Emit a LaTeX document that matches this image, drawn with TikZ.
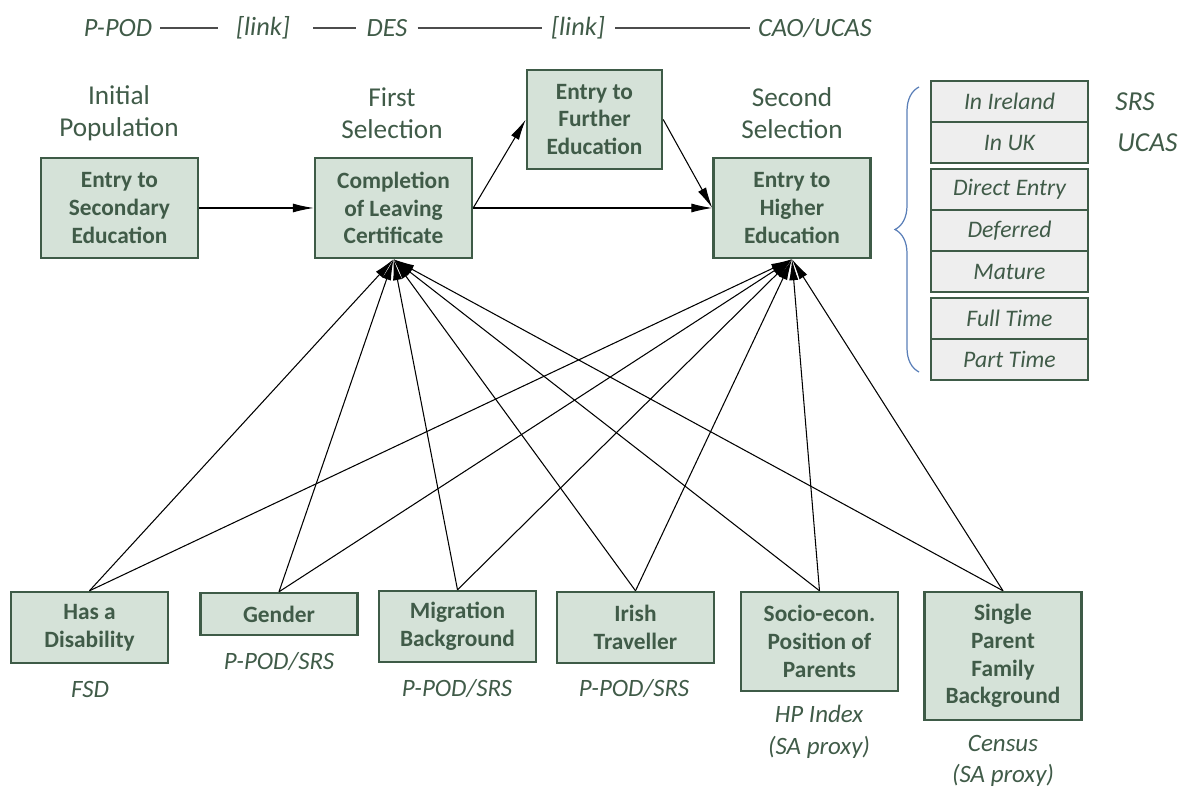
\documentclass[tikz,border=0pt]{standalone}
\usepackage{fontspec}
\setmainfont{Carlito}
\usetikzlibrary{arrows.meta,decorations.pathreplacing}
\definecolor{boxgreen}{HTML}{D5E2D8}
\definecolor{edgegreen}{HTML}{3E5B47}
\definecolor{inkgreen}{HTML}{405B48}
\definecolor{panelgrey}{HTML}{EEEEEE}
\definecolor{braceblue}{HTML}{5A7FB8}
\begin{document}
\begin{tikzpicture}[x=0.02cm, y=-0.02cm,
        stage/.style={draw=edgegreen, line width=1.4pt, fill=boxgreen, text=inkgreen,
            font=\bfseries\fontsize{13.3}{15.8}\selectfont, align=center,
            minimum width=3.14cm, inner sep=0pt},
        panel/.style={draw=edgegreen, line width=1.2pt, fill=panelgrey, text=inkgreen,
            font=\itshape\fontsize{13.5}{16}\selectfont,
            minimum width=3.14cm, minimum height=0.82cm, inner sep=0pt},
        heading/.style={text=inkgreen, align=center, font=\fontsize{15.5}{18.2}\selectfont},
        source/.style={text=inkgreen, align=center, inner sep=0pt, font=\itshape\fontsize{14.2}{18}\selectfont},
        link/.style={-{Latex[length=4.2mm,width=1.8mm]}, line width=0.6pt},
        rule/.style={line width=0.6pt, black!70}]
    \useasboundingbox (0,0) rectangle (1184,790);
    % data sources along the top
    \node[source, font=\itshape\fontsize{15}{18}\selectfont] (ppod) at (118,28) {P-POD};
    \node[source, font=\itshape\fontsize{15}{18}\selectfont] (linka) at (263,28) {[link]};
    \node[source, font=\itshape\fontsize{15}{18}\selectfont] (des) at (387,28) {DES};
    \node[source, font=\itshape\fontsize{15}{18}\selectfont] (linkb) at (578,28) {[link]};
    \node[source, font=\itshape\fontsize{15}{18}\selectfont] (cao) at (815,28) {CAO/UCAS};
    \draw[rule, shorten <=4.5pt, shorten >=10pt] (ppod.east) -- (linka.west);
    \draw[rule, shorten <=13pt, shorten >=5.7pt] (linka.east) -- (des.west);
    \draw[rule, shorten <=5.7pt, shorten >=5pt] (des.east) -- (linkb.west);
    \draw[rule, shorten <=5.7pt, shorten >=4.5pt] (linkb.east) -- (cao.west);
    % stages
    \node[heading] (initial) at (119,113) {Initial\\Population};
    \node[heading] (first) at (392,113) {First\\Selection};
    \node[heading] (second) at (792,113) {Second\\Selection};
    \node[stage, minimum height=2cm] (secondary) at (119.5,208) {Entry to\\Secondary\\Education};
    \node[stage, minimum height=2cm] (completion) at (393.5,208) {Completion\\of Leaving\\Certificate};
    \node[stage, minimum height=1.98cm, minimum width=2.7cm] (further) at (594.5,119.5) {Entry to\\Further\\Education};
    \node[stage, minimum height=2cm] (higher) at (792,208) {Entry to\\Higher\\Education};
    \draw[link] (secondary.east) -- (completion.west);
    \draw[link] (completion.east) -- (further.west);
    \draw[link] (further.east) -- (higher.west);
    \draw[link] (completion.east) -- (higher.west);
    % routes into higher education
    \node[panel] (ireland) at (1009.5,101.5) {In Ireland};
    \node[panel] (uk) at (1009.5,142.5) {In UK};
    \node[panel] (direct) at (1009.5,189.5) {Direct Entry};
    \node[panel] (deferred) at (1009.5,230.5) {Deferred};
    \node[panel] (mature) at (1009.5,271.5) {Mature};
    \node[panel] (fulltime) at (1009.5,318.5) {Full Time};
    \node[panel] (parttime) at (1009.5,359.5) {Part Time};
    \node[source, anchor=west, font=\itshape\fontsize{15.6}{18}\selectfont] (srs) at (1115,102) {SRS};
    \node[source, anchor=west, font=\itshape\fontsize{15.6}{18}\selectfont] (ucas) at (1117,143) {UCAS};
    \draw[braceblue, line width=0.7pt, decorate, decoration={brace, amplitude=0.48cm}] (919,372) -- (919,87);
    % background characteristics
    \node[stage, minimum height=1.42cm] (disability) at (89.5,627.5) {Has a\\Disability};
    \node[stage, minimum height=0.84cm] (gender) at (279,614) {Gender};
    \node[stage, minimum height=1.42cm] (migration) at (457.5,626.5) {Migration\\Background};
    \node[stage, minimum height=1.42cm] (traveller) at (635.5,627.5) {Irish\\Traveller};
    \node[stage, minimum height=1.98cm] (socio) at (819.5,641.5) {Socio-econ.\\Position of\\Parents};
    \node[stage, minimum height=2.56cm] (single) at (1003,656) {Single\\Parent\\Family\\Background};
    \node[source] (fsd) at (90,690) {FSD};
    \node[source] (genderdata) at (279,662) {P-POD/SRS};
    \node[source] (migrationdata) at (457,689) {P-POD/SRS};
    \node[source] (travellerdata) at (634,689) {P-POD/SRS};
    \node[source] (hpindex) at (819,732) {HP Index\\(SA proxy)};
    \node[source] (census) at (1003,761) {Census\\(SA proxy)};
    \draw[link] (disability.north) -- (completion.south);
    \draw[link] (disability.north) -- (higher.south);
    \draw[link] (gender.north) -- (completion.south);
    \draw[link] (gender.north) -- (higher.south);
    \draw[link] (migration.north) -- (completion.south);
    \draw[link] (migration.north) -- (higher.south);
    \draw[link] (traveller.north) -- (completion.south);
    \draw[link] (traveller.north) -- (higher.south);
    \draw[link] (socio.north) -- (completion.south);
    \draw[link] (socio.north) -- (higher.south);
    \draw[link] (single.north) -- (completion.south);
    \draw[link] (single.north) -- (higher.south);
\end{tikzpicture}
\end{document}
